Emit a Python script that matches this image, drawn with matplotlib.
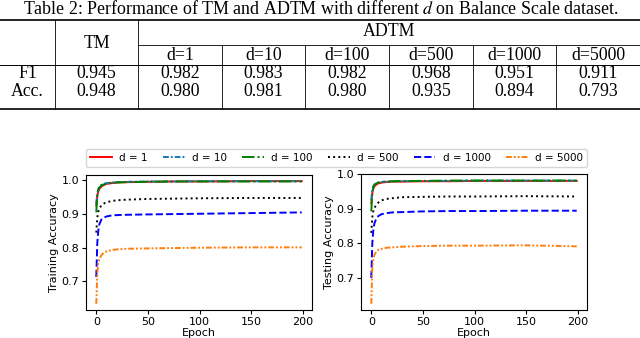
import matplotlib
matplotlib.use("Agg")
import matplotlib.pyplot as plt
from matplotlib.lines import Line2D

plt.rcParams["mathtext.fontset"] = "stix"

# table data
caption = "Table 2: Performance of TM and ADTM with different $d$ on Balance Scale dataset."
col_labels = ["d=1", "d=10", "d=100", "d=500", "d=1000", "d=5000"]
row_labels = ["F1", "Acc."]
tm_vals = ["0.945", "0.948"]
f1_vals = ["0.982", "0.983", "0.982", "0.968", "0.951", "0.911"]
acc_vals = ["0.980", "0.981", "0.980", "0.935", "0.894", "0.793"]

# curve data (values read at selected epochs)
epochs = [0, 1, 2, 3, 5, 7, 10, 15, 20, 30, 50, 75, 100, 150, 199]
labels = ["d = 1", "d = 10", "d = 100", "d = 500", "d = 1000", "d = 5000"]

train_acc = [
    [0.925, 0.955, 0.968, 0.975, 0.982, 0.986, 0.990, 0.992, 0.994, 0.995, 0.996, 0.997, 0.997, 0.998, 0.998],
    [0.930, 0.962, 0.975, 0.981, 0.987, 0.990, 0.992, 0.994, 0.995, 0.996, 0.997, 0.997, 0.998, 0.998, 0.998],
    [0.905, 0.955, 0.972, 0.979, 0.985, 0.988, 0.991, 0.993, 0.994, 0.995, 0.996, 0.997, 0.997, 0.997, 0.997],
    [0.845, 0.890, 0.908, 0.917, 0.926, 0.931, 0.935, 0.939, 0.941, 0.943, 0.945, 0.946, 0.947, 0.948, 0.948],
    [0.713, 0.815, 0.852, 0.870, 0.884, 0.889, 0.893, 0.896, 0.897, 0.898, 0.899, 0.900, 0.901, 0.903, 0.905],
    [0.633, 0.725, 0.755, 0.767, 0.778, 0.784, 0.789, 0.793, 0.795, 0.797, 0.798, 0.799, 0.800, 0.801, 0.801],
]
test_acc = [
    [0.915, 0.945, 0.958, 0.964, 0.970, 0.973, 0.975, 0.977, 0.978, 0.978, 0.979, 0.979, 0.980, 0.980, 0.980],
    [0.925, 0.955, 0.965, 0.970, 0.974, 0.976, 0.977, 0.978, 0.979, 0.979, 0.980, 0.980, 0.981, 0.981, 0.981],
    [0.892, 0.945, 0.962, 0.968, 0.973, 0.975, 0.977, 0.978, 0.979, 0.980, 0.980, 0.981, 0.981, 0.981, 0.981],
    [0.830, 0.875, 0.893, 0.902, 0.911, 0.918, 0.924, 0.928, 0.930, 0.933, 0.934, 0.935, 0.935, 0.936, 0.935],
    [0.700, 0.800, 0.838, 0.857, 0.872, 0.879, 0.884, 0.887, 0.889, 0.890, 0.892, 0.893, 0.893, 0.894, 0.894],
    [0.625, 0.728, 0.755, 0.766, 0.777, 0.781, 0.784, 0.787, 0.788, 0.790, 0.792, 0.793, 0.793, 0.794, 0.791],
]

colors = ["#ff0000", "#1f77b4", "#008000", "black", "#0000ff", "#ff7f0e"]
styles = ["-", (0, (3, 1, 1, 1)), "-.", ":", "--", (0, (3, 1, 1, 1, 1, 1))]

W, H = 640, 338
fig = plt.figure(figsize=(6.4, 3.38), dpi=100)

# ---- table drawn in pixel coords on an overlay axes ----
tab = fig.add_axes([0, 0, 1, 1])
tab.set_xlim(0, W)
tab.set_ylim(H, 0)
tab.axis("off")
serif = "Liberation Serif"
fs = 12.8

tab.text(321, 9, caption, ha="center", va="center", family=serif, fontsize=12.9)
tab.add_line(Line2D([0, W], [20, 20], color="black", lw=1.2))
tab.add_line(Line2D([138, W], [45, 45], color="black", lw=0.6))
tab.add_line(Line2D([0, W], [65, 65], color="black", lw=0.7))
tab.add_line(Line2D([0, W], [108.5, 108.5], color="black", lw=1.2))
for xv in [55, 138]:
    tab.add_line(Line2D([xv, xv], [20, 108.5], color="black", lw=0.6))
col_edges = [138 + i * (W - 138) / 6 for i in range(7)]
for xv in col_edges[1:-1]:
    tab.add_line(Line2D([xv, xv], [45, 108.5], color="black", lw=0.6))

tab.text(96.5, 44, "TM", ha="center", va="center", family=serif, fontsize=fs)
tab.text((138 + W) / 2, 32, "ADTM", ha="center", va="center", family=serif, fontsize=fs)
for i, lab in enumerate(col_labels):
    cx = (col_edges[i] + col_edges[i + 1]) / 2
    tab.text(cx, 55, lab, ha="center", va="center", family=serif, fontsize=fs)
    tab.text(cx, 74, f1_vals[i], ha="center", va="center", family=serif, fontsize=fs)
    tab.text(cx, 92, acc_vals[i], ha="center", va="center", family=serif, fontsize=fs)
for j, lab in enumerate(row_labels):
    yy = [74, 92][j]
    tab.text(27.5, yy, lab, ha="center", va="center", family=serif, fontsize=fs)
    tab.text(96.5, yy, tm_vals[j], ha="center", va="center", family=serif, fontsize=fs)

# ---- the two accuracy plots ----
ax1 = fig.add_axes([86 / W, 1 - 310 / H, 226 / W, 135 / H])
ax2 = fig.add_axes([361 / W, 1 - 310 / H, 226 / W, 136 / H])

for ax, data, ylab in [(ax1, train_acc, "Training Accuracy"), (ax2, test_acc, "Testing Accuracy")]:
    for k in range(len(labels)):
        ax.plot(epochs, data[k], color=colors[k], linestyle=styles[k], lw=1.4, label=labels[k])
    ax.set_xlabel("Epoch", fontsize=8, labelpad=1)
    ax.set_ylabel(ylab, fontsize=8, labelpad=2)
    ax.set_xticks([0, 50, 100, 150, 200])
    ax.set_yticks([0.7, 0.8, 0.9, 1.0])
    ax.tick_params(labelsize=8, length=3, pad=2)

handles, labs = ax1.get_legend_handles_labels()
fig.legend(handles, labs, loc="center", bbox_to_anchor=(336.5 / W, 1 - 158 / H),
           ncol=6, fontsize=7.5, frameon=True, handlelength=2.1, columnspacing=1.45,
           handletextpad=0.7, borderpad=0.4)

fig.savefig("out.png", dpi=100)
